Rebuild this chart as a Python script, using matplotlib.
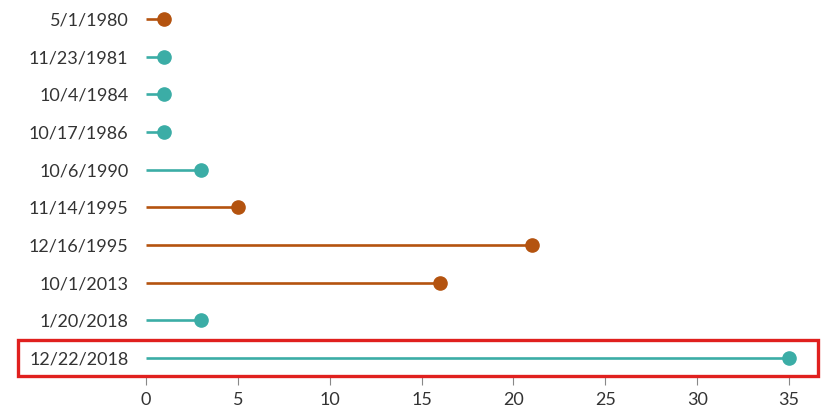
import matplotlib.pyplot as plt
from matplotlib.patches import Rectangle

plt.rcParams['font.family'] = ['Lato', 'DejaVu Sans']

# Shutdown start dates and length in days
dates = ['5/1/1980', '11/23/1981', '10/4/1984', '10/17/1986', '10/6/1990',
         '11/14/1995', '12/16/1995', '10/1/2013', '1/20/2018', '12/22/2018']
days = [1, 1, 1, 1, 3, 5, 21, 16, 3, 35]
party = ['D', 'R', 'R', 'R', 'R', 'D', 'D', 'D', 'R', 'R']

colors = {'D': '#B4530F', 'R': '#3BADA6'}

fig = plt.figure(figsize=(8.38, 4.17), dpi=100)
ax = fig.add_axes([136.8 / 838, 42 / 417, (803.7 - 136.8) / 838, 375 / 417])

for i, (d, p) in enumerate(zip(days, party)):
    c = colors[p]
    ax.plot([0, d], [i, i], color=c, lw=1.9, solid_capstyle='butt', zorder=2)
    ax.plot(d, i, 'o', color=c, markersize=9.5, zorder=3)

ax.set_xlim(-0.5, 35.8)
ax.set_ylim(9.45, -0.5)
ax.set_xticks(range(0, 36, 5))
ax.set_yticks(range(len(dates)))
ax.set_yticklabels(dates)

for s in ax.spines.values():
    s.set_visible(False)
ax.tick_params(axis='y', length=0, pad=6, labelsize=13, labelcolor='#333333')
ax.tick_params(axis='x', length=7, width=0.8, color='#888888', pad=5,
               labelsize=13, labelcolor='#333333')

# highlight box around the latest shutdown
fig.patches.append(Rectangle((18 / 838, 41 / 417), 800 / 838, 36 / 417,
                             transform=fig.transFigure, fill=False,
                             edgecolor='#E0201E', lw=2.4))

fig.savefig('out.png', dpi=100)
